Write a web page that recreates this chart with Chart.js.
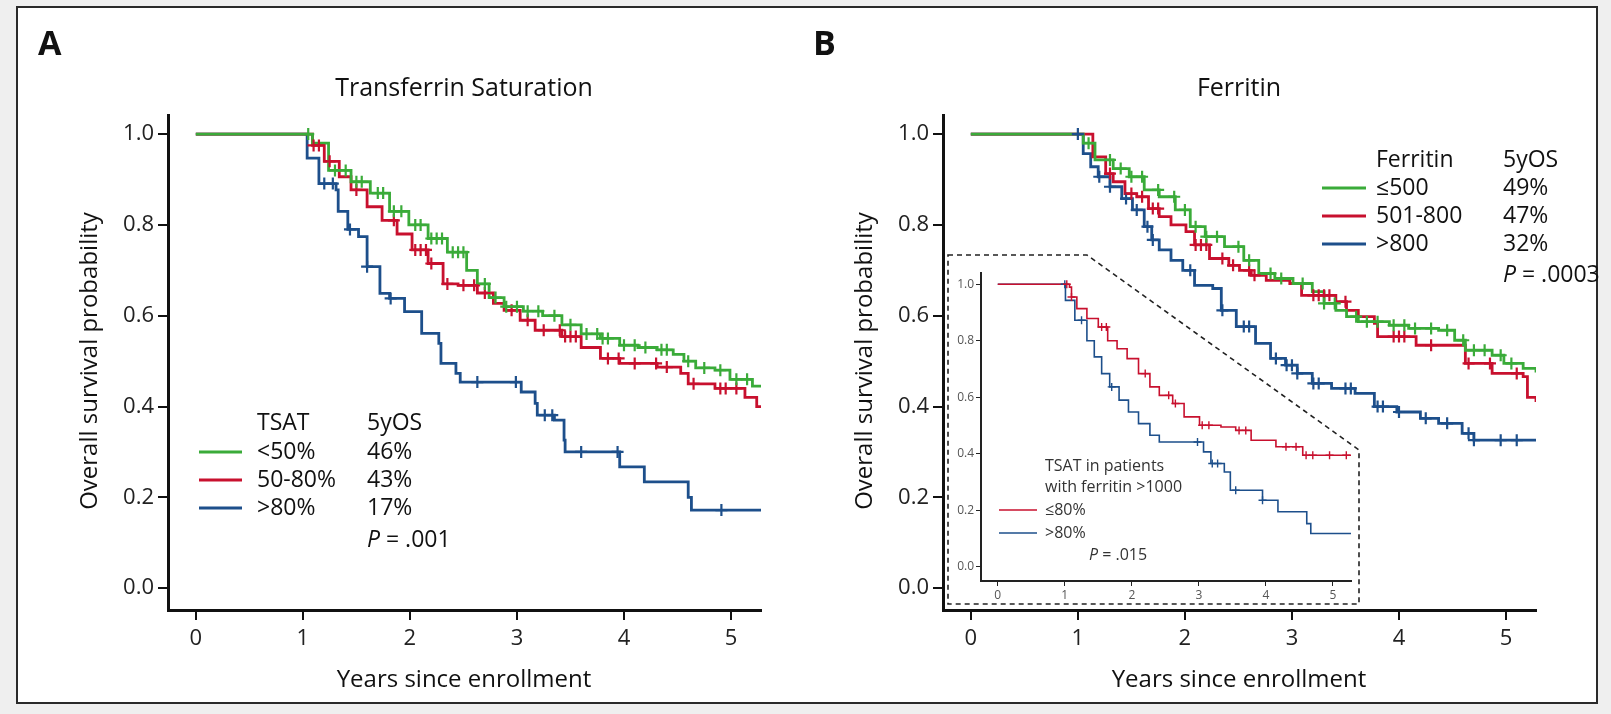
<!DOCTYPE html>
<html><head><meta charset="utf-8">
<script src="https://cdn.jsdelivr.net/npm/chart.js@4.4.1/dist/chart.umd.min.js"></script>
<style>
html,body{margin:0;padding:0;background:#efefef;}
#frame{position:absolute;left:16px;top:6px;width:1578px;height:694px;background:#fff;border:2px solid #2a2a2a;}
canvas{position:absolute;}
</style></head><body>
<div id="frame"></div>
<canvas id="cA" style="left:0;top:0" width="800" height="714"></canvas>
<canvas id="cB" style="left:775px;top:0" width="830" height="714"></canvas>
<canvas id="cI" style="left:940px;top:250px" width="430" height="360"></canvas>
<script>
// ---------- DATA ----------
const xTicks=[0,1,2,3,4,5];
const yTicks=[0,0.2,0.4,0.6,0.8,1.0];
// Panel A: Transferrin saturation
const aLow_t=[0,1.0,1.09,1.24,1.45,1.63,1.81,1.99,2.17,2.35,2.53,2.63,2.74,2.88,3.06,3.24,3.42,3.6,3.78,3.96,4.13,4.31,4.46,4.56,4.67,4.85,4.99,5.2,5.28];
const aLow_s=[1,1,0.98,0.92,0.895,0.87,0.83,0.80,0.77,0.74,0.70,0.67,0.64,0.62,0.61,0.60,0.58,0.56,0.55,0.535,0.53,0.525,0.515,0.50,0.485,0.48,0.46,0.445,0.445];
const aLow_c=[1.05,1.3,1.4,1.5,1.55,1.7,1.75,1.85,1.92,2.05,2.1,2.2,2.25,2.3,2.4,2.45,2.5,2.7,2.8,2.9,3.0,3.1,3.2,3.35,3.5,3.65,3.75,3.8,3.85,4.0,4.1,4.2,4.35,4.4,4.6,4.75,4.9,5.05,5.15];
const aMid_t=[0,1.05,1.09,1.2,1.34,1.45,1.6,1.74,1.88,2.02,2.17,2.31,2.45,2.63,2.78,2.88,3.03,3.17,3.42,3.6,3.78,3.96,4.31,4.53,4.6,4.85,5.13,5.24,5.28];
const aMid_s=[1,1,0.975,0.94,0.906,0.877,0.84,0.81,0.78,0.745,0.715,0.67,0.667,0.65,0.627,0.612,0.59,0.568,0.554,0.53,0.506,0.495,0.487,0.473,0.45,0.44,0.42,0.40,0.40];
const aMid_c=[1.1,1.15,1.25,1.5,1.85,2.05,2.1,2.15,2.2,2.35,2.5,2.6,2.7,2.95,3.1,3.25,3.4,3.45,3.5,3.55,3.85,3.95,4.1,4.3,4.4,4.65,4.9,4.95,5.05];
const aHigh_t=[0,1.04,1.15,1.31,1.33,1.42,1.52,1.6,1.72,1.81,1.95,2.11,2.27,2.29,2.43,2.47,3.04,3.17,3.19,3.35,3.44,3.45,3.96,4.19,4.6,4.63,5.28];
const aHigh_s=[1,0.947,0.891,0.877,0.83,0.79,0.774,0.708,0.649,0.638,0.609,0.561,0.539,0.495,0.473,0.454,0.432,0.407,0.381,0.37,0.326,0.30,0.267,0.234,0.20,0.172,0.172];
const aHigh_c=[1.2,1.28,1.44,1.6,1.82,2.63,2.99,3.26,3.33,3.6,3.94,4.91];
// Panel B: Ferritin
const bLow_t=[0,0.99,1.05,1.16,1.33,1.48,1.62,1.76,1.91,2.05,2.19,2.37,2.55,2.69,2.84,3.01,3.19,3.3,3.41,3.51,3.62,3.91,4.09,4.37,4.52,4.62,4.87,4.98,5.16,5.28];
const bLow_s=[1,1,0.98,0.943,0.924,0.906,0.877,0.862,0.833,0.796,0.774,0.752,0.722,0.693,0.682,0.671,0.653,0.627,0.612,0.598,0.587,0.579,0.572,0.568,0.546,0.524,0.513,0.495,0.484,0.475];
const bLow_c=[1.1,1.3,1.4,1.5,1.6,1.75,1.9,2.0,2.1,2.2,2.3,2.5,2.6,2.8,2.9,3.1,3.3,3.4,3.6,3.7,3.8,3.95,4.05,4.15,4.3,4.45,4.6,4.7,4.8,4.95,5.05];
const bMid_t=[0,1.14,1.26,1.33,1.44,1.55,1.66,1.76,1.87,2.01,2.09,2.23,2.41,2.51,2.62,2.76,2.98,3.09,3.41,3.51,3.62,3.77,3.8,4.16,4.55,4.62,4.87,5.16,5.2,5.28];
const bMid_s=[1,0.95,0.913,0.895,0.869,0.862,0.836,0.818,0.80,0.785,0.756,0.726,0.711,0.70,0.689,0.678,0.671,0.645,0.631,0.612,0.598,0.583,0.554,0.535,0.535,0.495,0.473,0.466,0.42,0.41];
const bMid_c=[1.3,1.5,1.6,1.7,1.75,2.1,2.15,2.2,2.35,2.45,2.6,2.65,3.2,3.25,3.3,3.35,3.5,3.95,4.0,4.05,4.3,4.65,4.85,5.1];
const bHigh_t=[0,1.0,1.05,1.12,1.19,1.3,1.41,1.51,1.62,1.69,1.76,1.87,1.98,2.09,2.26,2.34,2.48,2.66,2.8,2.94,3.05,3.19,3.37,3.59,3.77,3.98,4.2,4.37,4.59,4.7,5.28];
const bHigh_s=[1,1,0.957,0.928,0.906,0.884,0.858,0.833,0.796,0.767,0.745,0.722,0.70,0.667,0.66,0.612,0.576,0.539,0.506,0.491,0.473,0.451,0.44,0.429,0.40,0.388,0.374,0.363,0.341,0.326,0.326];
const bHigh_c=[1.0,1.2,1.3,1.45,1.55,1.65,1.7,2.05,2.35,2.55,2.6,2.85,2.95,3.0,3.05,3.2,3.25,3.5,3.55,3.8,3.85,4.0,4.25,4.45,4.65,4.7,4.95,5.1];
// Inset: TSAT in patients with ferritin >1000
const iLow_t=[0,1.03,1.07,1.1,1.18,1.33,1.5,1.64,1.78,1.93,2.1,2.27,2.41,2.61,2.78,3.01,3.33,3.55,3.78,4.15,4.55,5.27];
const iLow_s=[1,1,0.99,0.955,0.914,0.879,0.849,0.80,0.772,0.737,0.684,0.637,0.607,0.578,0.531,0.501,0.495,0.483,0.448,0.425,0.395,0.395];
const iLow_c=[1.03,1.1,1.55,1.62,2.2,2.55,2.65,3.05,3.15,3.6,3.7,4.3,4.45,4.6,4.7,4.95,5.2];
const iHigh_t=[0,1.01,1.15,1.33,1.44,1.55,1.67,1.81,1.95,2.1,2.27,2.41,3.07,3.18,3.38,3.47,3.95,4.18,4.61,4.67,5.27];
const iHigh_s=[1,0.943,0.873,0.80,0.743,0.684,0.637,0.59,0.548,0.507,0.466,0.442,0.407,0.366,0.336,0.271,0.236,0.195,0.153,0.118,0.118];
const iHigh_c=[1.0,1.25,1.7,2.98,3.2,3.28,3.55,3.95];

const GREEN='#3aab39', RED='#c8102e', BLUE='#1d4f8b';
const FONT='"Open Sans", sans-serif';

function pts(t,s){return t.map((x,i)=>({x:x,y:s[i]}));}
function survAt(t,s,x){let v=s[0];for(let i=0;i<t.length;i++){if(t[i]<=x)v=s[i];}return v;}
function cens(t,s,c){return c.map(x=>({x:x,y:survAt(t,s,x)}));}
function line(t,s,col,w){return {data:pts(t,s),borderColor:col,borderWidth:w,stepped:true,pointRadius:0,showLine:true,fill:false,order:2};}
function marks(t,s,c,col,r,w){return {data:cens(t,s,c),borderColor:col,backgroundColor:col,pointStyle:'cross',pointRadius:r,pointBorderWidth:w,showLine:false,order:1};}

const textPlugin={id:'txt',afterDraw(chart,args,opts){
  const ctx=chart.ctx;ctx.save();
  (opts.items||[]).forEach(it=>{
    ctx.fillStyle=it.color||'#111';ctx.font=it.font;ctx.textAlign=it.align||'left';ctx.textBaseline='middle';
    if(it.rot){ctx.save();ctx.translate(it.x,it.y);ctx.rotate(-Math.PI/2);ctx.fillText(it.text,0,0);ctx.restore();}
    else if(it.italicP){ctx.font='italic '+it.font;ctx.fillText('P',it.x,it.y);const w=ctx.measureText('P').width;ctx.font=it.font;ctx.fillText(it.text,it.x+w,it.y);}
    else ctx.fillText(it.text,it.x,it.y);
  });
  (opts.lines||[]).forEach(l=>{ctx.strokeStyle=l.color;ctx.lineWidth=l.w;ctx.beginPath();ctx.moveTo(l.x1,l.y);ctx.lineTo(l.x2,l.y);ctx.stroke();});
  ctx.restore();
}};

function mainChart(id,datasets,items,lines,rpad){
  return new Chart(document.getElementById(id),{type:'scatter',data:{datasets},
    plugins:[textPlugin],
    options:{responsive:false,animation:false,events:[],
      layout:{padding:{left:0,top:115,right:rpad,bottom:0}},
      plugins:{legend:{display:false},tooltip:{enabled:false},txt:{items,lines}},
      scales:{
        x:{type:'linear',min:-0.26,max:5.28,afterBuildTicks:s=>{s.ticks=xTicks.map(v=>({value:v}));},afterFit:s=>{s.height=104;},
          border:{display:true,color:'#111',width:3},
          grid:{display:true,drawOnChartArea:false,drawTicks:true,tickLength:10,color:'#111',lineWidth:2},
          ticks:{color:'#222',font:{family:FONT,size:22},padding:6,callback:v=>String(v)}},
        y:{type:'linear',min:-0.048,max:1.042,afterBuildTicks:s=>{s.ticks=yTicks.map(v=>({value:v}));},afterFit:s=>{s.width=168;},
          border:{display:true,color:'#111',width:3},
          grid:{display:true,drawOnChartArea:false,drawTicks:true,tickLength:10,color:'#111',lineWidth:2},
          ticks:{color:'#222',font:{family:FONT,size:22},padding:4,callback:v=>v.toFixed(1)}}
      }}});
}
const F24='23px '+FONT;
mainChart('cA',[
  line(aLow_t,aLow_s,GREEN,2.8),line(aMid_t,aMid_s,RED,2.8),line(aHigh_t,aHigh_s,BLUE,2.8),
  marks(aLow_t,aLow_s,aLow_c,GREEN,6,2.2),marks(aMid_t,aMid_s,aMid_c,RED,6,2.2),marks(aHigh_t,aHigh_s,aHigh_c,BLUE,6,2.2)
],[
  {text:'A',x:38,y:45,font:'bold 34px '+FONT},
  {text:'Transferrin Saturation',x:464,y:89,font:'25px '+FONT,align:'center'},
  {text:'Years since enrollment',x:464,y:680,font:'24px '+FONT,align:'center'},
  {text:'Overall survival probability',x:90,y:361,font:'24px '+FONT,align:'center',rot:true},
  {text:'TSAT',x:257,y:423,font:F24},{text:'5yOS',x:367,y:423,font:F24},
  {text:'<50%',x:257,y:452,font:F24},{text:'46%',x:367,y:452,font:F24},
  {text:'50-80%',x:257,y:480,font:F24},{text:'43%',x:367,y:480,font:F24},
  {text:'>80%',x:257,y:508,font:F24},{text:'17%',x:367,y:508,font:F24},
  {text:' = .001',x:367,y:540,font:F24,italicP:true}
],[{x1:199,x2:242,y:452,color:GREEN,w:3},{x1:199,x2:242,y:480,color:RED,w:3},{x1:199,x2:242,y:508,color:BLUE,w:3}],39);

mainChart('cB',[
  line(bLow_t,bLow_s,GREEN,2.8),line(bMid_t,bMid_s,RED,2.8),line(bHigh_t,bHigh_s,BLUE,2.8),
  marks(bLow_t,bLow_s,bLow_c,GREEN,6,2.2),marks(bMid_t,bMid_s,bMid_c,RED,6,2.2),marks(bHigh_t,bHigh_s,bHigh_c,BLUE,6,2.2)
],[
  {text:'B',x:38,y:45,font:'bold 34px '+FONT},
  {text:'Ferritin',x:464,y:89,font:'25px '+FONT,align:'center'},
  {text:'Years since enrollment',x:464,y:680,font:'24px '+FONT,align:'center'},
  {text:'Overall survival probability',x:90,y:361,font:'24px '+FONT,align:'center',rot:true},
  {text:'Ferritin',x:601,y:160,font:F24},{text:'5yOS',x:728,y:160,font:F24},
  {text:'≤500',x:601,y:188,font:F24},{text:'49%',x:728,y:188,font:F24},
  {text:'501-800',x:601,y:216,font:F24},{text:'47%',x:728,y:216,font:F24},
  {text:'>800',x:601,y:244,font:F24},{text:'32%',x:728,y:244,font:F24},
  {text:' = .0003',x:728,y:275,font:F24,italicP:true}
],[{x1:547,x2:591,y:188,color:GREEN,w:3},{x1:547,x2:591,y:216,color:RED,w:3},{x1:547,x2:591,y:244,color:BLUE,w:3}],69);

// Inset
const insetBg={id:'insetBg',beforeDraw(chart){
  const ctx=chart.ctx;ctx.save();
  const P=[[8,5],[147,5],[419,200],[419,354],[8,354]];
  ctx.fillStyle='#fff';ctx.beginPath();P.forEach((p,i)=>i?ctx.lineTo(p[0],p[1]):ctx.moveTo(p[0],p[1]));ctx.closePath();ctx.fill();
  ctx.setLineDash([5,4]);ctx.strokeStyle='#222';ctx.lineWidth=1.6;ctx.stroke();
  ctx.restore();
}};
const F15='16px '+FONT;
new Chart(document.getElementById('cI'),{type:'scatter',data:{datasets:[
  line(iLow_t,iLow_s,RED,1.6),line(iHigh_t,iHigh_s,BLUE,1.6),
  marks(iLow_t,iLow_s,iLow_c,RED,4,1.4),marks(iHigh_t,iHigh_s,iHigh_c,BLUE,4,1.4)]},
  plugins:[insetBg,textPlugin],
  options:{responsive:false,animation:false,events:[],
    layout:{padding:{left:0,top:23,right:19,bottom:0}},
    plugins:{legend:{display:false},tooltip:{enabled:false},txt:{items:[
      {text:'TSAT in patients',x:105,y:216,font:F15,color:'#333'},
      {text:'with ferritin >1000',x:105,y:237,font:F15,color:'#333'},
      {text:'≤80%',x:105,y:260,font:F15,color:'#333'},
      {text:'>80%',x:105,y:283,font:F15,color:'#333'},
      {text:' = .015',x:149,y:305,font:F15,color:'#333',italicP:true}
    ],lines:[{x1:59,x2:97,y:260,color:RED,w:1.6},{x1:59,x2:97,y:283,color:BLUE,w:1.6}]}},
    scales:{
      x:{type:'linear',min:-0.25,max:5.27,afterBuildTicks:s=>{s.ticks=xTicks.map(v=>({value:v}));},afterFit:s=>{s.height=29;},
        border:{display:true,color:'#222',width:2},
        grid:{display:true,drawOnChartArea:false,drawTicks:true,tickLength:5,color:'#222',lineWidth:1},
        ticks:{color:'#555',font:{family:FONT,size:12},padding:2,callback:v=>String(v)}},
      y:{type:'linear',min:-0.05,max:1.04,afterBuildTicks:s=>{s.ticks=yTicks.map(v=>({value:v}));},afterFit:s=>{s.width=41;},
        border:{display:true,color:'#222',width:2},
        grid:{display:true,drawOnChartArea:false,drawTicks:true,tickLength:5,color:'#222',lineWidth:1},
        ticks:{color:'#555',font:{family:FONT,size:12},padding:2,callback:v=>v.toFixed(1)}}
    }}});
</script></body></html>
